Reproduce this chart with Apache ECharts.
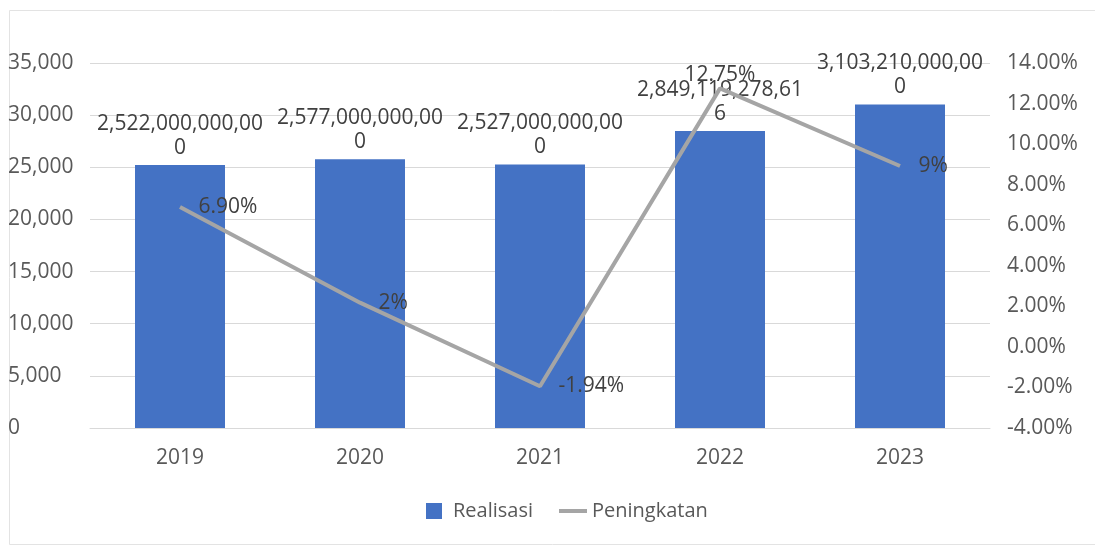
<!DOCTYPE html>
<html>
<head>
<meta charset="utf-8">
<script src="https://cdn.jsdelivr.net/npm/echarts@6/dist/echarts.min.js"></script>
<style>
html,body{margin:0;padding:0;background:#fff;}
#c{width:1095px;height:545px;}
</style>
</head>
<body>
<div id="c"></div>
<script>
const years = ['2019','2020','2021','2022','2023'];
const realisasiFull = [2522000000000, 2577000000000, 2527000000000, 2849119278616, 3103210000000];
const peningkatan = [6.90, 2.18, -1.94, 12.75, 8.92];
const peningkatanLabels = ['6.90%', '2%', '-1.94%', '12.75%', '9%'];
const leftTicks = {min: 0, max: 35000, step: 5000};
const rightTicks = {min: -4, max: 14, step: 2};

const FONT = '"Open Sans", "Noto Sans", sans-serif';
const TXT = '#595959';
const FS = 21;

function fmtFull(v) {
  const s = v.toLocaleString('en-US');
  return s.slice(0, 16) + '\n' + s.slice(16);
}

const barData = realisasiFull.map(v => v / 1e8);
const linePos = ['right', 'right', 'right', 'top', 'right'];

const chart = echarts.init(document.getElementById('c'), null, {renderer: 'canvas'});
chart.setOption({
  backgroundColor: '#fff',
  animation: false,
  textStyle: {fontFamily: FONT},
  graphic: [{
    type: 'rect', left: 7, top: 8, shape: {width: 1086, height: 534},
    style: {fill: 'none', stroke: '#E3E3E3', lineWidth: 1}, silent: true
  }],
  grid: {left: 90, right: 105, top: 63, bottom: 117},
  legend: {
    bottom: 19, left: 421,
    itemGap: 24, itemWidth: 28, itemHeight: 16,
    textStyle: {color: TXT, fontSize: 20, fontFamily: FONT},
    data: [
      {name: 'Realisasi', icon: 'path://M0,0 H16 V16 H0 Z'},
      {name: 'Peningkatan', lineStyle: {width: 4, color: '#A5A5A5'}}
    ]
  },
  xAxis: {
    type: 'category', data: years,
    axisLine: {lineStyle: {color: '#D9D9D9'}},
    axisTick: {show: false},
    axisLabel: {color: TXT, fontSize: FS, margin: 20, fontFamily: FONT}
  },
  yAxis: [{
    type: 'value', min: leftTicks.min, max: leftTicks.max, interval: leftTicks.step,
    axisLine: {show: false}, axisTick: {show: false},
    splitLine: {lineStyle: {color: '#D9D9D9'}},
    axisLabel: {color: TXT, fontSize: FS, align: 'left', margin: 82, fontFamily: FONT,
      formatter: v => v.toLocaleString('en-US')}
  }, {
    type: 'value', min: rightTicks.min, max: rightTicks.max, interval: rightTicks.step,
    axisLine: {show: false}, axisTick: {show: false}, splitLine: {show: false},
    axisLabel: {color: TXT, fontSize: FS, margin: 17, fontFamily: FONT,
      formatter: v => v.toFixed(2) + '%'}
  }],
  series: [{
    name: 'Realisasi', type: 'bar', data: barData, barWidth: '50%',
    itemStyle: {color: '#4472C4'},
    label: {show: true, position: 'top', distance: 5, color: '#404040', fontSize: FS,
      lineHeight: 24, fontFamily: FONT,
      formatter: p => fmtFull(realisasiFull[p.dataIndex])}
  }, {
    name: 'Peningkatan', type: 'line', yAxisIndex: 1,
    symbol: 'circle', symbolSize: 1, showSymbol: true,
    data: peningkatan.map((v, i) => ({
      value: v,
      label: {position: linePos[i], distance: linePos[i] === 'top' ? 2 : 18}
    })),
    lineStyle: {color: '#A5A5A5', width: 4},
    itemStyle: {color: 'rgba(165,165,165,0)'},
    label: {show: true, color: '#404040', fontSize: FS, distance: 18, fontFamily: FONT,
      formatter: p => peningkatanLabels[p.dataIndex]}
  }]
});
</script>
</body>
</html>
